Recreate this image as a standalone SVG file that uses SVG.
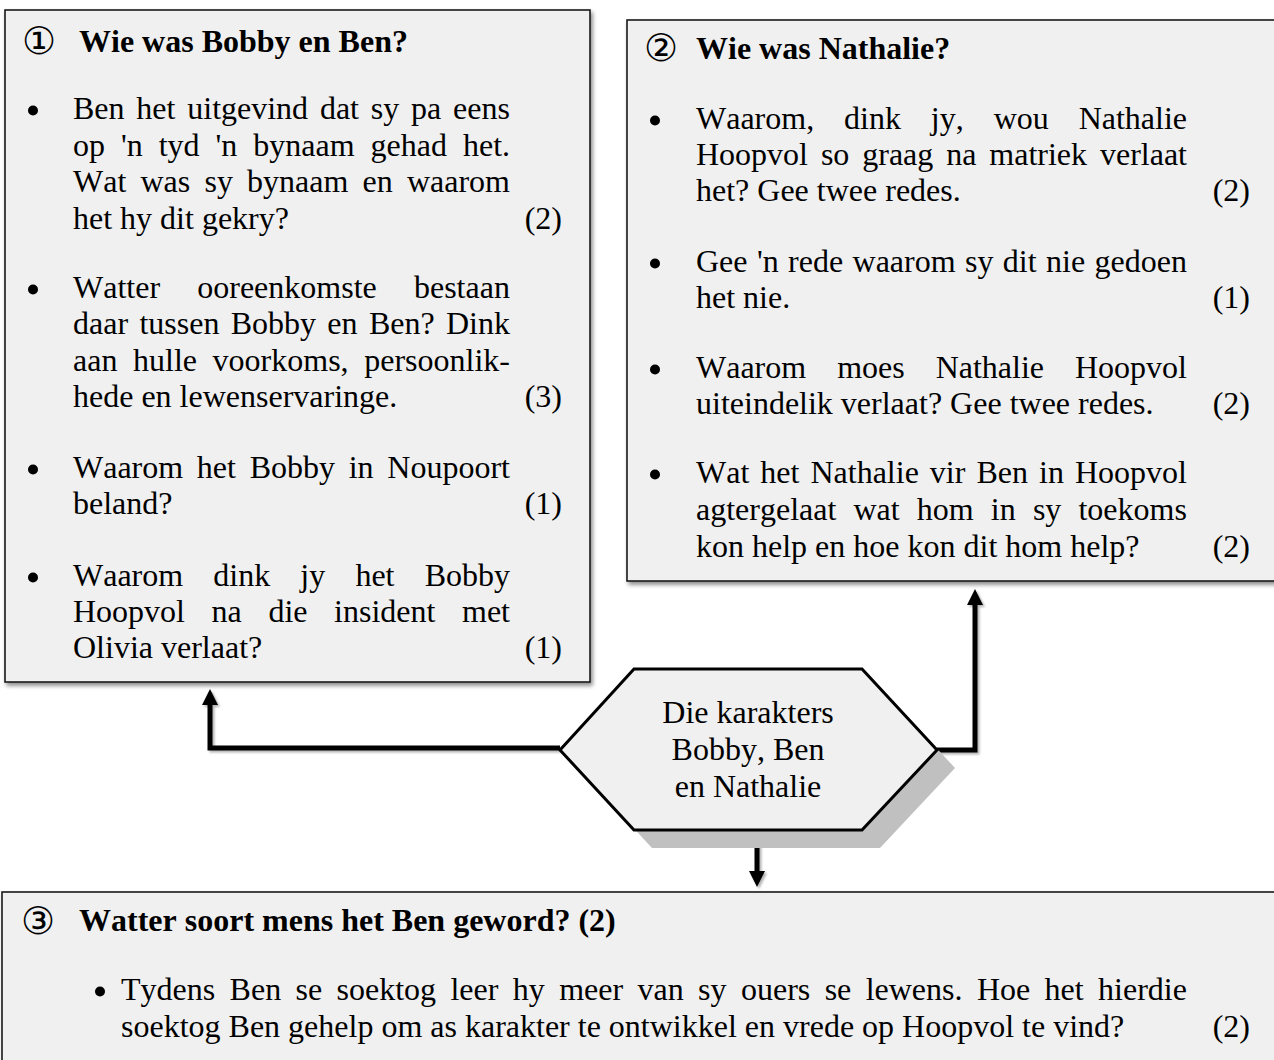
<svg xmlns="http://www.w3.org/2000/svg" width="1274" height="1060" viewBox="0 0 1274 1060">
<style>
.t{font-family:"Liberation Serif","Times New Roman",serif;font-size:32px;font-kerning:none;fill:#000}
.b{font-weight:bold}
.e{text-anchor:end}
.m{text-anchor:middle}
.num{font-family:"DejaVu Sans",sans-serif;font-size:38px;text-anchor:middle;fill:#000}
.box{fill:#f0f0f0;stroke:#1a1a1a;stroke-width:1.6}
.dot{fill:#000}
.conn{fill:none;stroke:#000;stroke-width:5;stroke-linejoin:miter}
.head{fill:#000}
</style>
<defs>
<filter id="sh" x="-5%" y="-5%" width="110%" height="110%">
<feGaussianBlur in="SourceAlpha" stdDeviation="2"/>
<feOffset dx="2" dy="3" result="o"/>
<feComponentTransfer><feFuncA type="linear" slope="0.45"/></feComponentTransfer>
<feMerge><feMergeNode/><feMergeNode in="SourceGraphic"/></feMerge>
</filter>
<filter id="lsh" x="-20%" y="-20%" width="140%" height="140%">
<feGaussianBlur in="SourceAlpha" stdDeviation="1.2"/>
<feOffset dx="2" dy="2" result="o"/>
<feComponentTransfer><feFuncA type="linear" slope="0.3"/></feComponentTransfer>
<feMerge><feMergeNode/><feMergeNode in="SourceGraphic"/></feMerge>
</filter>
</defs>
<rect width="1274" height="1060" fill="#fff"/>

<g id="connectors" filter="url(#lsh)">
<polyline class="conn" points="560,748 210,748 210,703"/>
<polygon class="head" points="210,689 202,705 218,705"/>
<polyline class="conn" points="937,750 975,750 975,603"/>
<polygon class="head" points="975,589 967,605 983,605"/>
<line class="conn" x1="757" y1="830" x2="757" y2="872"/>
<polygon class="head" points="757,887 749,871 765,871"/>
</g>

<g id="node-box1">
<rect class="box" x="5" y="10" width="585" height="672" filter="url(#sh)"/>
<text class="num" x="39" y="54">①</text>
<text class="t b" x="79" y="52">Wie was Bobby en Ben?</text>
<circle class="dot" cx="33" cy="110.5" r="5"/>
<text class="t" x="73" y="119" word-spacing="3.8">Ben het uitgevind dat sy pa eens</text>
<text class="t" x="73" y="156" word-spacing="7.97">op 'n tyd 'n bynaam gehad het.</text>
<text class="t" x="73" y="192" word-spacing="6.18">Wat was sy bynaam en waarom</text>
<text class="t" x="73" y="229">het hy dit gekry?</text>
<text class="t e" x="562" y="229">(2)</text>
<circle class="dot" cx="33" cy="289.5" r="5"/>
<text class="t" x="73" y="298" word-spacing="29.2">Watter ooreenkomste bestaan</text>
<text class="t" x="73" y="334" word-spacing="3.32">daar tussen Bobby en Ben? Dink</text>
<text class="t" x="73" y="371" word-spacing="7.6">aan hulle voorkoms, persoonlik-</text>
<text class="t" x="73" y="407">hede en lewenservaringe.</text>
<text class="t e" x="562" y="407">(3)</text>
<circle class="dot" cx="33" cy="469.5" r="5"/>
<text class="t" x="73" y="478" word-spacing="5.7">Waarom het Bobby in Noupoort</text>
<text class="t" x="73" y="514">beland?</text>
<text class="t e" x="562" y="514">(1)</text>
<circle class="dot" cx="33" cy="577.5" r="5"/>
<text class="t" x="73" y="586" word-spacing="22.15">Waarom dink jy het Bobby</text>
<text class="t" x="73" y="622" word-spacing="18.6">Hoopvol na die insident met</text>
<text class="t" x="73" y="658">Olivia verlaat?</text>
<text class="t e" x="562" y="658">(1)</text>
</g>

<g id="node-box2">
<rect class="box" x="627" y="20" width="660" height="561" filter="url(#sh)"/>
<text class="num" x="661" y="61">②</text>
<text class="t b" x="696" y="59">Wie was Nathalie?</text>
<circle class="dot" cx="655" cy="120.5" r="5"/>
<text class="t" x="696" y="129" word-spacing="21.9">Waarom, dink jy, wou Nathalie</text>
<text class="t" x="696" y="165" word-spacing="4.9">Hoopvol so graag na matriek verlaat</text>
<text class="t" x="696" y="201">het? Gee twee redes.</text>
<text class="t e" x="1250" y="201">(2)</text>
<circle class="dot" cx="655" cy="263.5" r="5"/>
<text class="t" x="696" y="272" word-spacing="1.4">Gee 'n rede waarom sy dit nie gedoen</text>
<text class="t" x="696" y="308">het nie.</text>
<text class="t e" x="1250" y="308">(1)</text>
<circle class="dot" cx="655" cy="369.5" r="5"/>
<text class="t" x="696" y="378" word-spacing="22.97">Waarom moes Nathalie Hoopvol</text>
<text class="t" x="696" y="414">uiteindelik verlaat? Gee twee redes.</text>
<text class="t e" x="1250" y="414">(2)</text>
<circle class="dot" cx="655" cy="474.5" r="5"/>
<text class="t" x="696" y="483" word-spacing="3.03">Wat het Nathalie vir Ben in Hoopvol</text>
<text class="t" x="696" y="520" word-spacing="9.14">agtergelaat wat hom in sy toekoms</text>
<text class="t" x="696" y="557">kon help en hoe kon dit hom help?</text>
<text class="t e" x="1250" y="557">(2)</text>
</g>

<g id="node-hub">
<polygon points="578,768 652,687 880,687 955,768 880,848 652,848" fill="#c0c0c0"/>
<polygon points="560,750 634,669 862,669 937,750 862,830 634,830" fill="#f0f0f0" stroke="#000" stroke-width="3" stroke-linejoin="miter"/>
<text class="t m" x="748" y="723">Die karakters</text>
<text class="t m" x="748" y="760">Bobby, Ben</text>
<text class="t m" x="748" y="797">en Nathalie</text>
</g>

<g id="node-box3">
<rect class="box" x="2" y="892" width="1290" height="190" filter="url(#sh)"/>
<text class="num" x="38" y="934">③</text>
<text class="t b" x="79" y="931">Watter soort mens het Ben geword? (2)</text>
<circle class="dot" cx="100" cy="991.5" r="5"/>
<text class="t" x="121" y="1000" word-spacing="6.38">Tydens Ben se soektog leer hy meer van sy ouers se lewens. Hoe het hierdie</text>
<text class="t" x="121" y="1037">soektog Ben gehelp om as karakter te ontwikkel en vrede op Hoopvol te vind?</text>
<text class="t e" x="1250" y="1037">(2)</text>
</g>
</svg>
